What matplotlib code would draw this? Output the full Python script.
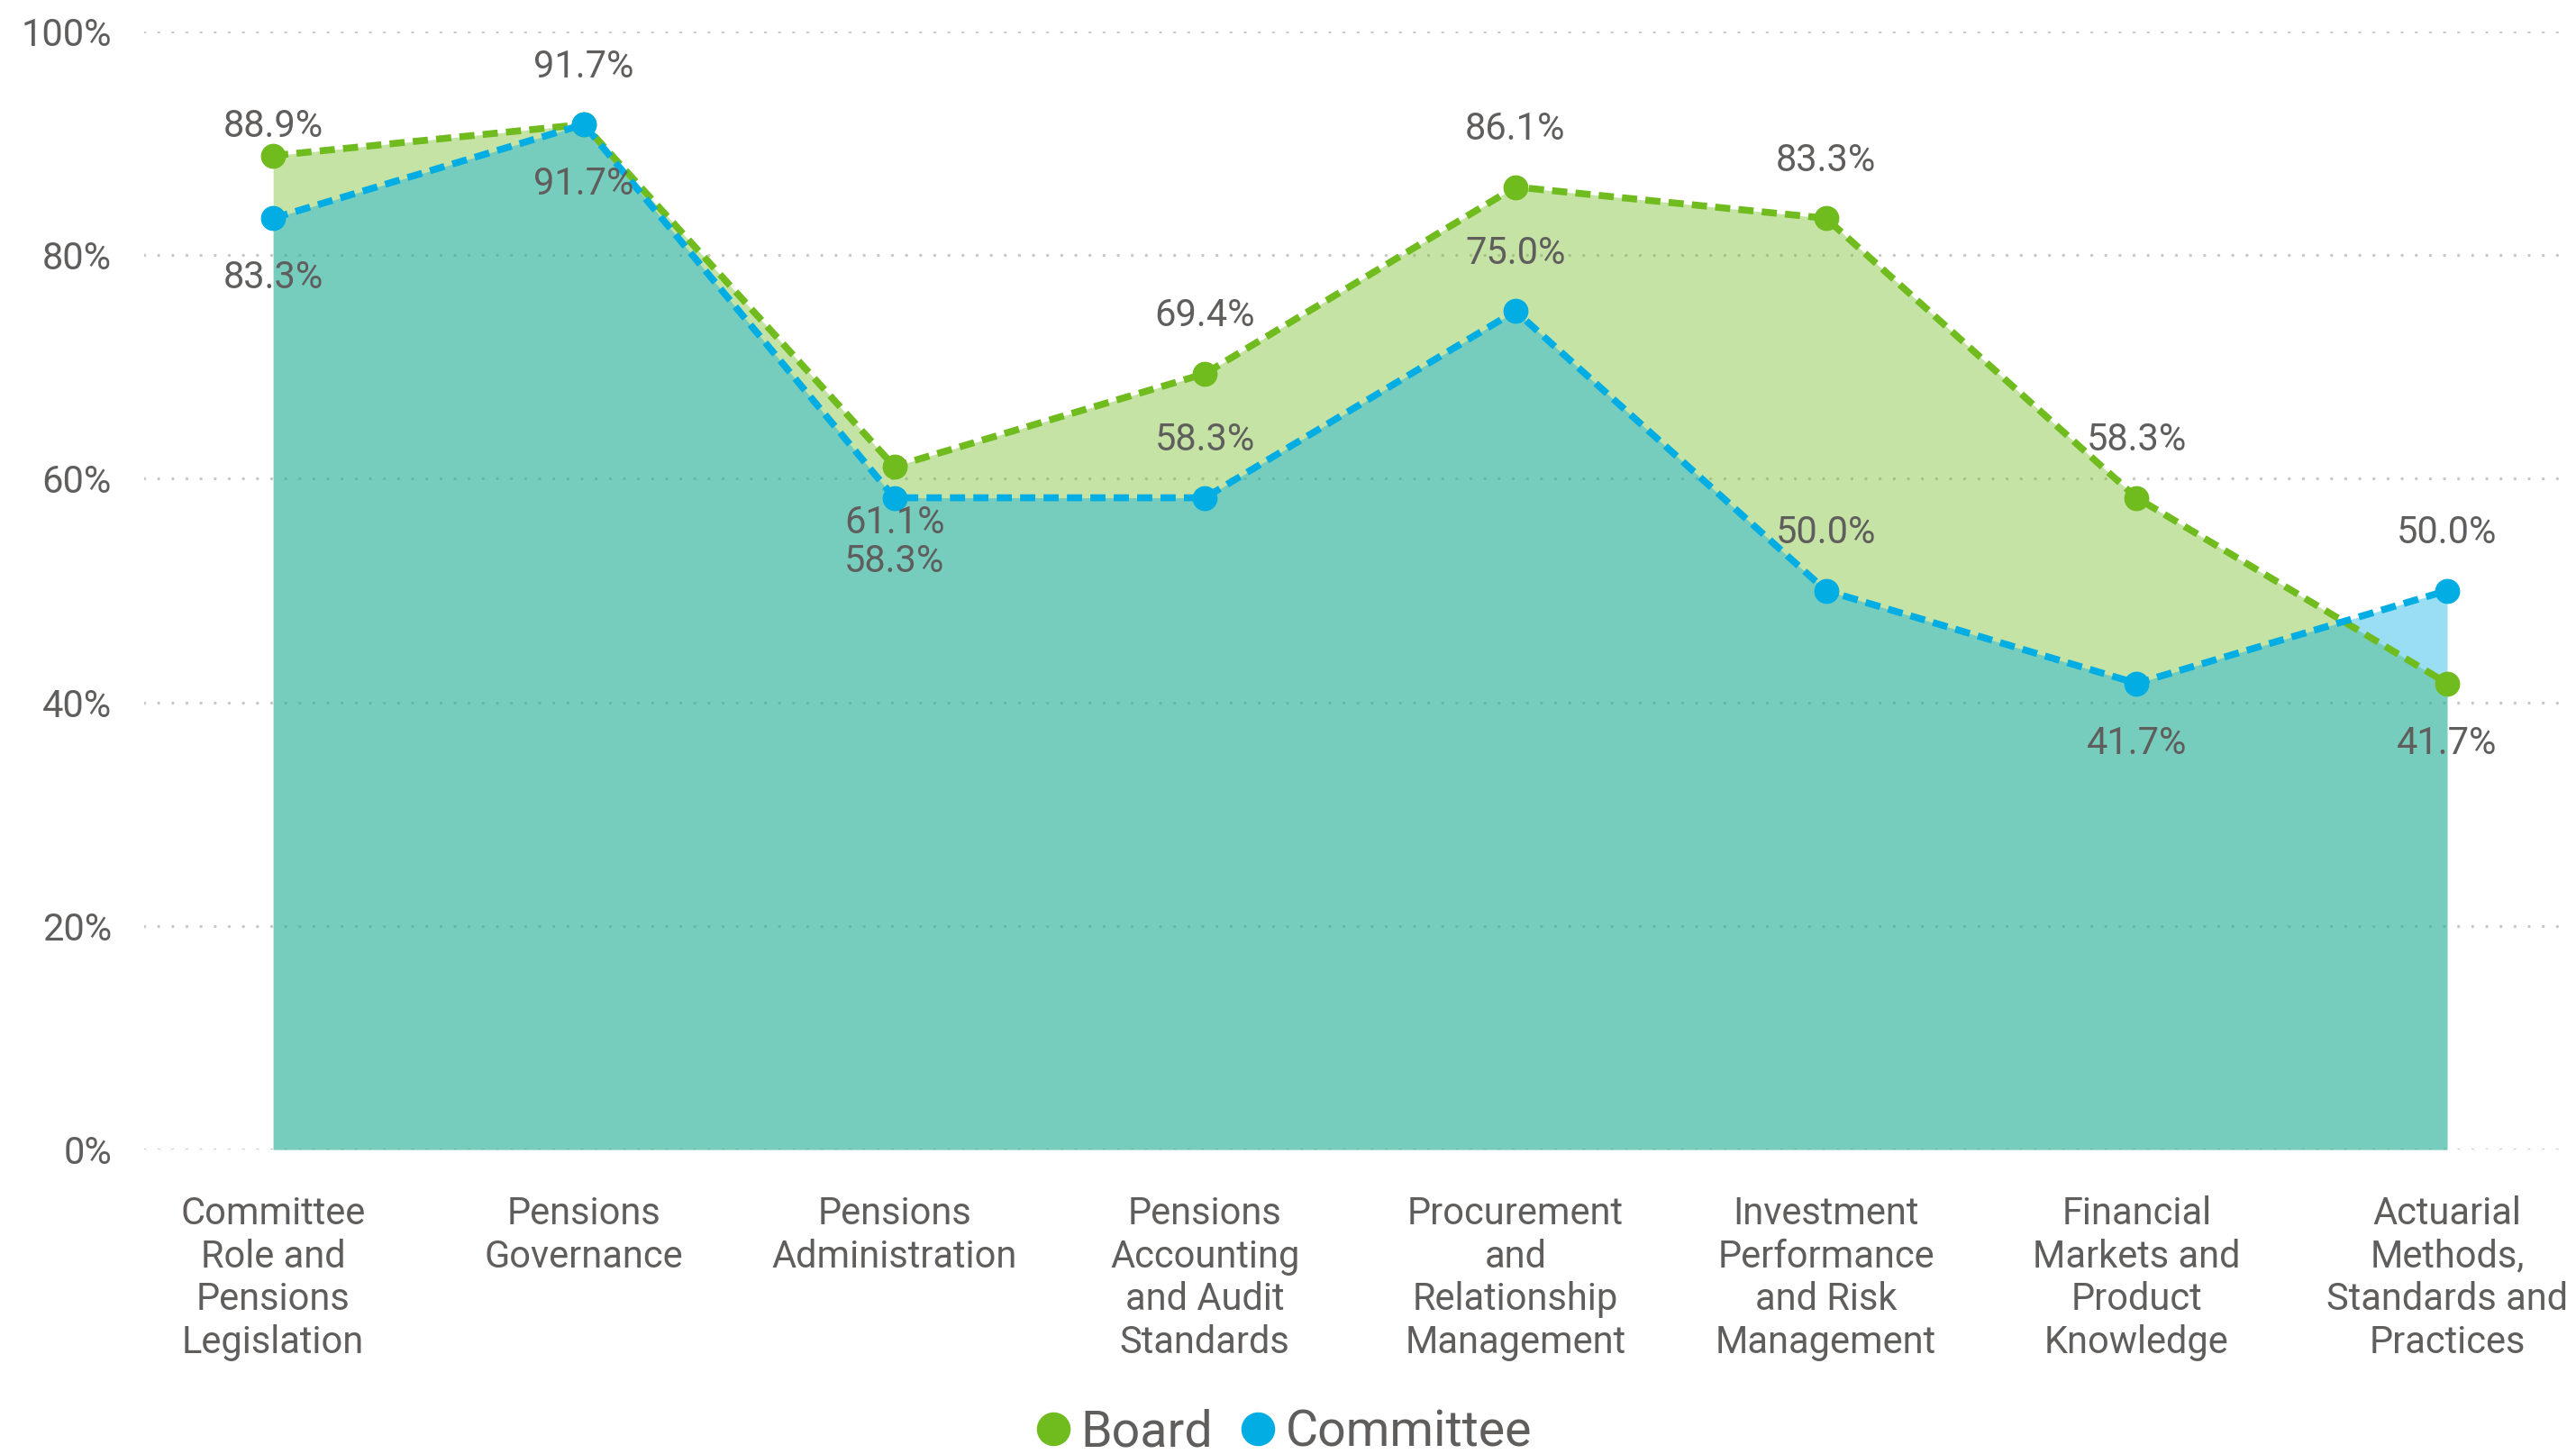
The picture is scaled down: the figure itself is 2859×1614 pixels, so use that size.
import matplotlib.pyplot as plt
from matplotlib.lines import Line2D
from matplotlib.ticker import PercentFormatter

plt.rcParams['font.family'] = ['Roboto', 'DejaVu Sans']

categories = [
    "Committee\nRole and\nPensions\nLegislation",
    "Pensions\nGovernance",
    "Pensions\nAdministration",
    "Pensions\nAccounting\nand Audit\nStandards",
    "Procurement\nand\nRelationship\nManagement",
    "Investment\nPerformance\nand Risk\nManagement",
    "Financial\nMarkets and\nProduct\nKnowledge",
    "Actuarial\nMethods,\nStandards and\nPractices",
]
board = [88.9, 91.7, 61.1, 69.4, 86.1, 83.3, 58.3, 41.7]
committee = [83.3, 91.7, 58.3, 58.3, 75.0, 50.0, 41.7, 50.0]

# label offsets in points (positive = above the point)
board_off = [23, 46, -45, 46, 46, 46, 46, -48]
committee_off = [-48, -48, -51, 46, 46, 46, -48, 46]

GREEN = '#70BB1E'
BLUE = '#01ADE2'
TEXT = '#605E5C'

fig = plt.figure(figsize=(28.59, 16.14), dpi=100)
ax = fig.add_axes([0.056, 0.2094, 0.941, 0.7689])

x = list(range(len(categories)))

ax.fill_between(x, 0, board, color=GREEN, alpha=0.4, linewidth=0, zorder=2)
ax.fill_between(x, 0, committee, color=BLUE, alpha=0.4, linewidth=0, zorder=3)
ax.plot(x, board, color=GREEN, lw=5.5, linestyle=(0, (2.2, 1.2)),
        marker='o', markersize=19, zorder=4)
ax.plot(x, committee, color=BLUE, lw=5.5, linestyle=(0, (2.2, 1.2)),
        marker='o', markersize=19, zorder=5)

for xi, v, off in zip(x, board, board_off):
    ax.annotate(f"{v:.1f}%", (xi, v), xytext=(0, off), textcoords='offset points',
                ha='center', va='center', fontsize=30, color=TEXT, zorder=6)
for xi, v, off in zip(x, committee, committee_off):
    ax.annotate(f"{v:.1f}%", (xi, v), xytext=(0, off), textcoords='offset points',
                ha='center', va='center', fontsize=30, color=TEXT, zorder=6)

ax.set_xlim(-0.415, 7.39)
ax.set_ylim(0, 100)
ax.set_yticks([0, 20, 40, 60, 80, 100])
ax.yaxis.set_major_formatter(PercentFormatter(100, decimals=0))
ax.set_xticks(x)
ax.set_xticklabels(categories, linespacing=1.2)

ax.grid(axis='y', color='#C8C8C8', linewidth=2.5,
        linestyle=(0, (0.01, 4.5)), dash_capstyle='round', zorder=1)
ax.grid(axis='x', visible=False)
ax.set_axisbelow(True)
for s in ax.spines.values():
    s.set_visible(False)
ax.tick_params(axis='both', length=0, labelsize=30, labelcolor=TEXT)
ax.tick_params(axis='x', pad=37)
ax.tick_params(axis='y', pad=26)

handles = [
    Line2D([], [], linestyle='none', marker='o', markersize=26, color=GREEN),
    Line2D([], [], linestyle='none', marker='o', markersize=26, color=BLUE),
]
fig.legend(handles, ['Board', 'Committee'], loc='center', bbox_to_anchor=(0.497, 0.015),
           ncol=2, frameon=False, fontsize=40, labelcolor=TEXT,
           handletextpad=0.05, columnspacing=0.4, handlelength=1.0)

fig.savefig('out.png', dpi=100)
